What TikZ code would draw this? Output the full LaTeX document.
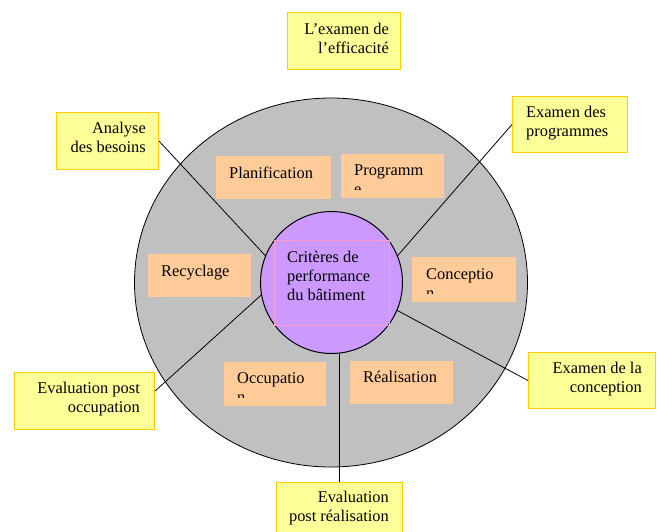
\documentclass[tikz,border=0pt]{standalone}
\usepackage{fontspec}
\setmainfont{Liberation Serif}
\definecolor{grayF}{HTML}{C0C0C0}
\definecolor{purpleF}{HTML}{CC99FF}
\definecolor{pinkD}{HTML}{FF99CC}
\definecolor{orangeF}{HTML}{FFCC99}
\definecolor{yellowF}{HTML}{FFFF99}
\definecolor{yellowD}{HTML}{FFCC00}
\begin{document}
\begin{tikzpicture}[x=1pt,y=-1pt,
  txt/.style={inner sep=0pt, font=\fontsize{16.4}{19}\selectfont},
  ybox/.style={fill=yellowF, draw=yellowD, line width=1pt, inner sep=0pt, anchor=north west},
  obox/.style={fill=orangeF, inner sep=0pt, anchor=north west},
  conn/.style={draw=black, line width=0.8pt}]
\useasboundingbox (0,0) rectangle (658,532);

% outer ring
\draw[fill=grayF, line width=0.8pt] (331,282.5) ellipse [x radius=196.5pt, y radius=184.5pt];

% yellow boxes
\node[ybox, minimum width=113pt, minimum height=57pt] (effic) at (287,12) {};
\node[ybox, minimum width=102pt, minimum height=57pt] (analyse) at (56,112) {};
\node[ybox, minimum width=115pt, minimum height=56pt] (programmes) at (512,96) {};
\node[ybox, minimum width=140pt, minimum height=57pt] (occupation) at (14,372) {};
\node[ybox, minimum width=127pt, minimum height=56pt] (conception) at (528,352) {};
\node[ybox, minimum width=126pt, minimum height=57pt] (realis) at (276,482) {};

% core circle (for anchors)
\node[circle, minimum size=142pt, inner sep=0pt] (core) at (331.5,282.5) {};

% connectors
\draw[conn] (analyse.east) -- (core.158);
\draw[conn] (programmes.west) -- (core.22);
\draw[conn] (conception.west) -- (core.-23);
\draw[conn] (occupation.8) -- (core.-170);
\draw[conn] (realis.north) -- (realis.north |- core.south);

% core drawn on top
\node[circle, draw=black, fill=purpleF, line width=1pt, minimum size=142pt, inner sep=0pt] at (core.center) {};
\node[draw=pinkD, line width=0.8pt, minimum width=115pt, minimum height=85pt, inner sep=0pt, anchor=north west] (crit) at (274,240) {};
\node[txt, anchor=north west, align=left] (crittxt) at (287,251) {Critères de\\performance\\du bâtiment};

% orange boxes
\node[obox, minimum width=115pt, minimum height=43pt] (plan) at (216,156) {};
\node[txt, anchor=north west] (plantxt) at (229,167) {Planification};

\node[obox, minimum width=103pt, minimum height=44pt] (prog) at (341,154) {};
\begin{scope}
\clip (341,154) rectangle (444,189);
\node[txt, anchor=north west, align=left] (progtxt) at (354,165) {Programm\\e};
\end{scope}

\node[obox, minimum width=104pt, minimum height=45pt] (concep) at (412,257) {};
\begin{scope}
\clip (412,257) rectangle (516,293);
\node[txt, anchor=north west, align=left] (conceptxt) at (426,268) {Conceptio\\n};
\end{scope}

\node[obox, minimum width=102pt, minimum height=44pt] (occup) at (224,362) {};
\begin{scope}
\clip (224,362) rectangle (326,397);
\node[txt, anchor=north west, align=left] (occuptxt) at (237,372) {Occupatio\\n};
\end{scope}

\node[obox, minimum width=103pt, minimum height=43pt] (real) at (350,361) {};
\node[txt, anchor=north west] (realtxt) at (363,370.5) {Réalisation};

\node[obox, minimum width=103pt, minimum height=43pt] (recy) at (148,254) {};
\node[txt, anchor=north west] (recytxt) at (161,265) {Recyclage};

% yellow texts
\node[txt, anchor=north east, align=right] (effictxt) at (389,23) {L’examen de\\l’efficacité};
\node[txt, anchor=north east, align=right] (analysetxt) at (146,122) {Analyse\\des besoins};
\node[txt, anchor=north west, align=left] (progrtxt) at (526,106) {Examen des\\programmes};
\node[txt, anchor=north east, align=right] (occupationtxt) at (140,382) {Evaluation post\\occupation};
\node[txt, anchor=north east, align=right] (conceptiontxt) at (642,362) {Examen de la\\conception};
\node[txt, anchor=north east, align=right] (realistxt) at (389,491) {Evaluation\\post réalisation};
\end{tikzpicture}
\end{document}
